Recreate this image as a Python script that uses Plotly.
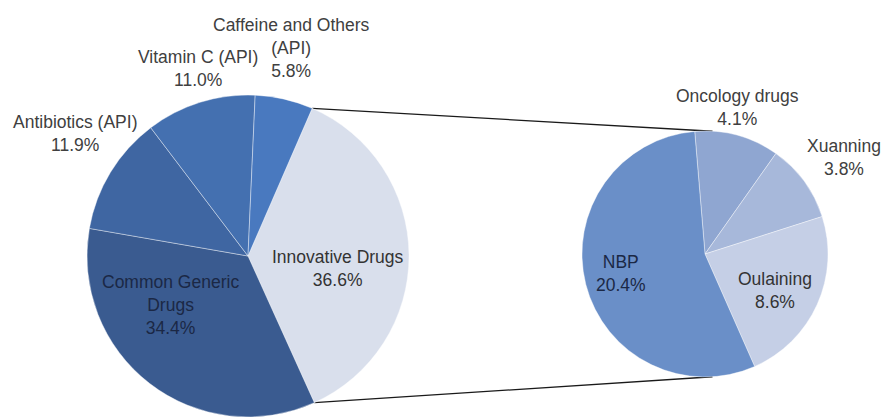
import math
import plotly.graph_objects as go

# ---------------- data ----------------
left_labels = ["Innovative Drugs", "Common Generic<br>Drugs", "Antibiotics (API)",
               "Vitamin C (API)", "Caffeine and Others<br>(API)"]
left_values = [36.6, 34.4, 11.9, 11.0, 5.8]

right_labels = ["Oncology drugs", "Xuanning", "Oulaining", "NBP"]
right_values = [4.1, 3.8, 8.6, 20.4]

# ---------------- style / layout ----------------
W, H = 883, 417
left_colors = ["#D9DFEC", "#3A5B90", "#3F66A2", "#4470B0", "#4979BF"]
right_colors = ["#8FA6D1", "#A7B8DA", "#C5CFE6", "#6A8FC8"]

left_domain = dict(x=[87 / W, 409 / W], y=[0.0, 322 / H])
right_domain = dict(x=[582 / W, 828 / W], y=[40 / H, 286 / H])
left_rotation = 23.5
right_rotation = -4.8

font_family = "Liberation Sans, Arial, sans-serif"
font_size = 17.5

# label block centres in pixels (x, y from top), per slice
left_label_pos = [(338, 268), (170, 305), (75, 133), (198, 68), (291, 48)]
left_label_color = ["#333333", "#1B2845", "#404040", "#404040", "#404040"]
right_label_pos = [(737, 108), (844, 157), (775, 290), (621, 273)]
right_label_color = ["#404040", "#404040", "#333333", "#1B2845"]

fig = go.Figure()
fig.add_trace(go.Pie(
    labels=left_labels, values=left_values, sort=False, direction="clockwise",
    rotation=left_rotation, domain=left_domain, textinfo="none", hoverinfo="label+value",
    marker=dict(colors=left_colors, line=dict(color="rgba(255,255,255,0.4)", width=1)),
    showlegend=False,
))
fig.add_trace(go.Pie(
    labels=right_labels, values=right_values, sort=False, direction="clockwise",
    rotation=right_rotation, domain=right_domain, textinfo="none", hoverinfo="label+value",
    marker=dict(colors=right_colors, line=dict(color="rgba(255,255,255,0.4)", width=1)),
    showlegend=False,
))


def pie_geom(domain):
    x0, x1 = domain["x"][0] * W, domain["x"][1] * W
    y0, y1 = (1 - domain["y"][1]) * H, (1 - domain["y"][0]) * H
    r = min(x1 - x0, y1 - y0) / 2
    return (x0 + x1) / 2, (y0 + y1) / 2, r


def point(cx, cy, r, ang_deg):
    a = math.radians(ang_deg)
    return cx + r * math.sin(a), cy - r * math.cos(a)


# connector lines from the exploded slice (first left slice) to the second pie
lcx, lcy, lr = pie_geom(left_domain)
rcx, rcy, rr = pie_geom(right_domain)
start_ang = left_rotation
end_ang = left_rotation + 360 * left_values[0] / sum(left_values)
p_top_l = point(lcx, lcy, lr, start_ang)
p_bot_l = point(lcx, lcy, lr, end_ang)
p_top_r = point(rcx, rcy, rr, 3.5)
p_bot_r = point(rcx, rcy, rr, 176.5)

shapes = []
for (ax, ay), (bx, by) in [(p_top_l, p_top_r), (p_bot_l, p_bot_r)]:
    shapes.append(dict(type="line", xref="paper", yref="paper",
                       x0=ax / W, y0=1 - ay / H, x1=bx / W, y1=1 - by / H,
                       line=dict(color="#1a1a1a", width=1.3), layer="below"))

annotations = []
for labels, values, pos, cols in [(left_labels, left_values, left_label_pos, left_label_color),
                                  (right_labels, right_values, right_label_pos, right_label_color)]:
    for lab, val, (px, py), c in zip(labels, values, pos, cols):
        annotations.append(dict(
            x=px / W, y=1 - py / H, xref="paper", yref="paper",
            text=f"{lab}<br>{val:.1f}%", showarrow=False,
            xanchor="center", yanchor="middle", align="center",
            font=dict(family=font_family, size=font_size, color=c),
        ))

fig.update_layout(
    width=W, height=H, margin=dict(l=0, r=0, t=0, b=0),
    paper_bgcolor="white", plot_bgcolor="white",
    shapes=shapes, annotations=annotations,
    font=dict(family=font_family, size=font_size),
)

fig.write_html("out.html")
